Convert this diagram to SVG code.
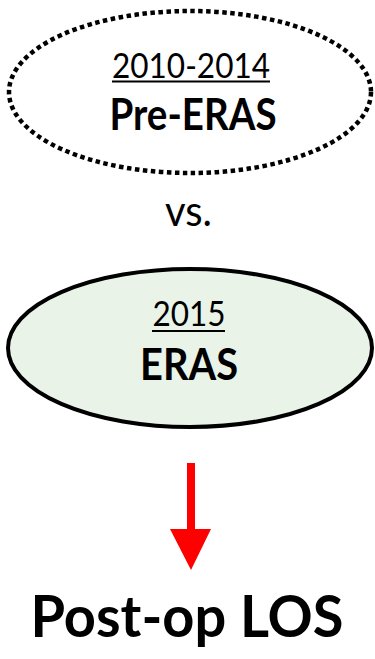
<svg xmlns="http://www.w3.org/2000/svg" width="375" height="659" viewBox="0 0 375 659">
<style>
.t{font-family:Lato,"Open Sans","Liberation Sans",sans-serif;fill:#000;text-anchor:middle}
.yr{font-size:35px}
.b{font-size:44px;font-weight:bold}
</style>
<rect width="375" height="659" fill="#fff"/>
<g id="pre-eras">
<ellipse cx="190" cy="92" rx="181" ry="81" fill="none" stroke="#000" stroke-width="4.5" stroke-dasharray="4.5 3.5"/>
<text class="t yr" x="191" y="78" textLength="158" lengthAdjust="spacingAndGlyphs">2010-2014</text>
<line x1="112" y1="81.5" x2="270" y2="81.5" stroke="#000" stroke-width="2"/>
<text class="t b" x="193" y="130" textLength="167" lengthAdjust="spacingAndGlyphs">Pre-ERAS</text>
</g>
<g id="vs">
<text class="t" x="188.5" y="226" font-size="42" textLength="47" lengthAdjust="spacingAndGlyphs">vs.</text>
</g>
<g id="eras">
<ellipse cx="190" cy="348" rx="182" ry="79" fill="#e9f3e8" stroke="#000" stroke-width="4"/>
<text class="t yr" x="189" y="326" textLength="73" lengthAdjust="spacingAndGlyphs">2015</text>
<line x1="152" y1="331" x2="225" y2="331" stroke="#000" stroke-width="2"/>
<text class="t b" x="189" y="380" textLength="98" lengthAdjust="spacingAndGlyphs">ERAS</text>
</g>
<g id="connectors">
<rect x="187" y="463" width="8" height="67" fill="#ff0000"/>
<polygon points="170,529 211,529 191,570" fill="#ff0000"/>
</g>
<g id="post-op">
<text class="t" x="187" y="637" font-size="58" font-weight="bold" textLength="313" lengthAdjust="spacingAndGlyphs">Post-op LOS</text>
</g>
</svg>
